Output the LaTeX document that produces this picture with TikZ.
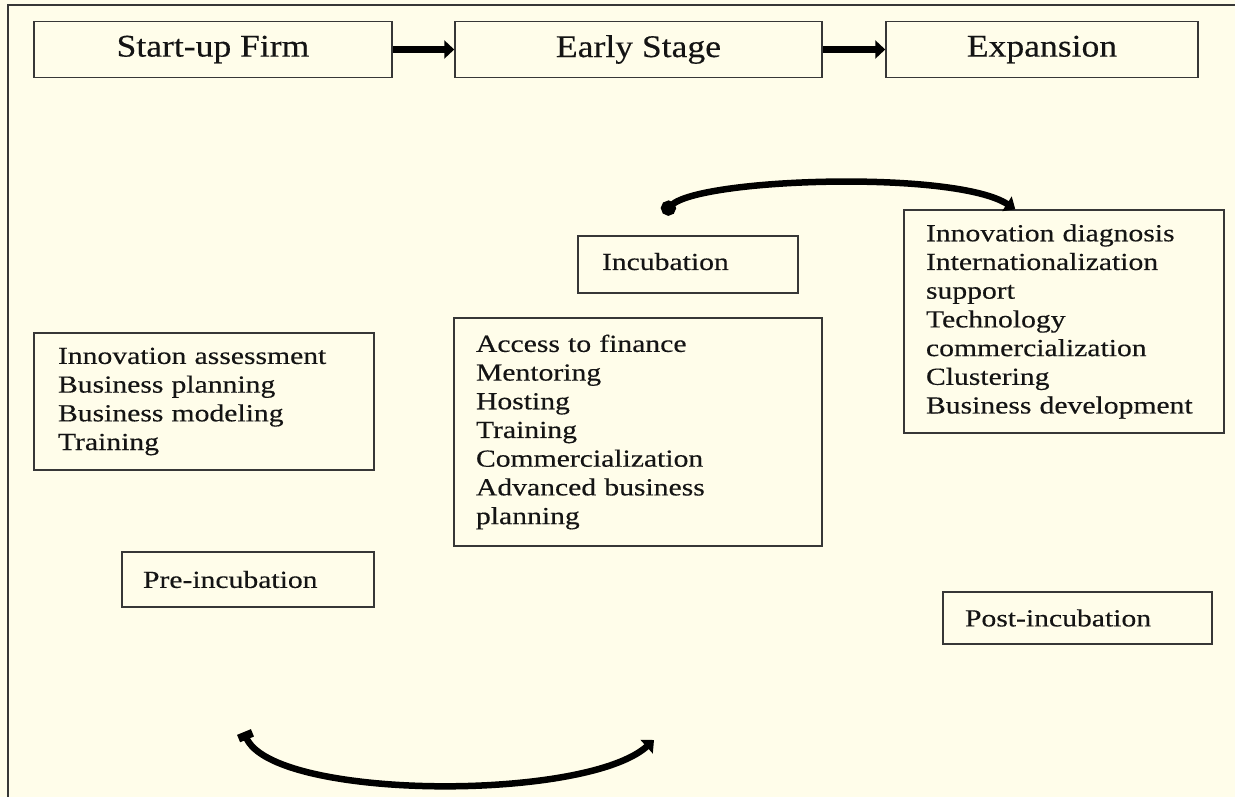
\documentclass[tikz,border=0pt]{standalone}
\usepackage{fontspec}
\setmainfont{Liberation Serif}[FakeStretch=1.21, FakeBold=0.35]
\newfontfamily\titlefont{Liberation Serif}[FakeStretch=1.13, FakeBold=0.35]
\usetikzlibrary{arrows.meta}
\definecolor{bgcream}{RGB}{255,253,234}
\definecolor{framegray}{RGB}{55,55,55}
\definecolor{inkblack}{RGB}{20,20,20}
\begin{document}
\begin{tikzpicture}[x=1pt,y=-1pt,
  stagebox/.style={draw=framegray, line width=1.5pt, fill=bgcream, minimum height=56pt,
    inner sep=0pt, font=\titlefont\fontsize{31.5}{36}\selectfont, text=inkblack},
  listbox/.style={draw=framegray, line width=1.4pt, fill=bgcream, align=left, inner ysep=0pt,
    font=\fontsize{24.5}{28.7}\selectfont, text=inkblack},
  stagearrow/.style={line width=7pt, -{Triangle[length=10pt,width=18pt]}, black},
  brush/.style={line width=6.5pt, black},
]
\useasboundingbox (0,0) rectangle (1235,797);
\fill[bgcream] (0,0) rectangle (1235,797);
% outer frame (left and top only)
\draw[framegray, line width=2.5pt] (8,797) -- (8,5) -- (1235,5);

% stage boxes
\node[stagebox, minimum width=358pt] (start) at (213,49.5) {Start-up Firm};
\node[stagebox, minimum width=367pt] (early) at (638.5,49.5) {Early Stage};
\node[stagebox, minimum width=312pt] (expan) at (1042,49.5) {Expansion};
\draw[stagearrow] (start.east) -- (early.west);
\draw[stagearrow] (early.east) -- (expan.west);

% list boxes
\node[listbox, text width=292pt, inner xsep=24pt, minimum height=137pt] (prelist) at (204,401.5)
  {Innovation assessment\\Business planning\\Business modeling\\Training};
\node[listbox, text width=324pt, inner xsep=22pt, minimum height=228pt] (inclist) at (638,432)
  {Access to finance\\Mentoring\\Hosting\\Training\\Commercialization\\Advanced business\\planning};
\node[listbox, text width=276pt, inner xsep=22pt, minimum height=223pt] (postlist) at (1064,321.5)
  {Innovation diagnosis\\Internationalization\\support\\Technology\\commercialization\\Clustering\\Business development};

% phase label boxes
\node[listbox, text width=172pt, inner xsep=24pt, minimum height=57pt, text depth=6pt] (incub) at (688,264.5) {Incubation};
\node[listbox, text width=210pt, inner xsep=21pt, minimum height=55pt] (preinc) at (248,579.5) {Pre-incubation};
\node[listbox, text width=225pt, inner xsep=22pt, minimum height=52pt] (postinc) at (1077.5,618) {Post-incubation};

% brush-stroke arcs
\coordinate (topA) at ([shift={(-25,-22)}]incub.north);
\coordinate (topB) at ([shift={(112,0)}]postlist.north west);
\draw[brush, {Circle[length=15pt]}-{Triangle[length=10pt,width=17pt]}]
  (topA) .. controls (700,178) and (955,170) .. (topB);

\coordinate (botA) at (244,732);
\coordinate (botB) at (654,740);
\draw[brush, {Square[length=8pt,width=15pt]}-{Triangle[length=10pt,width=18pt]}]
  (botA) .. controls (272,800) and (585,802) .. (botB);
\end{tikzpicture}
\end{document}
